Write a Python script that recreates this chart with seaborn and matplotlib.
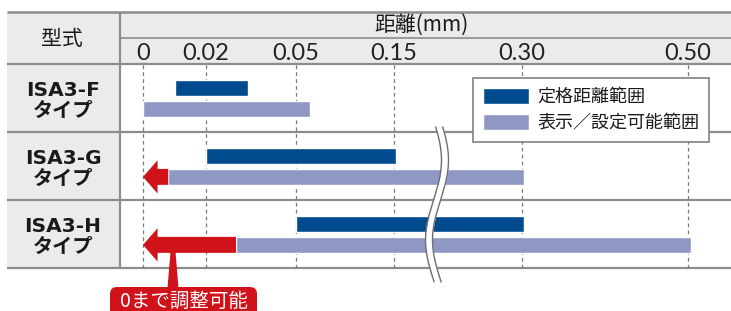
import numpy as np
import matplotlib
matplotlib.use("Agg")
import matplotlib.pyplot as plt
import seaborn as sns
from matplotlib.patches import Rectangle, FancyBboxPatch

# ---- data (distance in mm) ----
models = ["ISA3-F", "ISA3-G", "ISA3-H"]
rated_start = [0.01, 0.02, 0.05]
rated_end = [0.034, 0.152, 0.302]
display_start = [0.0, 0.008, 0.03]
display_end = [0.064, 0.302, 0.504]
adjustable_to_zero = [False, True, True]
tick_values = [0, 0.02, 0.05, 0.15, 0.30, 0.50]
tick_labels = ["0", "0.02", "0.05", "0.15", "0.30", "0.50"]

# ---- layout (figure pixels) ----
W, H = 731, 311
TICK_PX = [143, 206, 296, 394, 522, 688]   # where each tick sits on the non-linear axis
NAVY, LAV, RED = "#004b8d", "#8f98c4", "#d0121b"
FILL, LINE, INK = "#ebebeb", "#8c8c8c", "#1a1a1a"
JP = ["Noto Sans CJK JP", "DejaVu Sans"]

sns.set_theme(style="white")
plt.rcParams["font.family"] = JP


def piecewise(v, xs, ys):
    # linear between anchor points, linear extrapolation outside
    v = np.asarray(v, dtype=float)
    out = np.interp(v, xs, ys)
    out = np.where(v < xs[0], ys[0] + (v - xs[0]) * (ys[1] - ys[0]) / (xs[1] - xs[0]), out)
    out = np.where(v > xs[-1], ys[-1] + (v - xs[-1]) * (ys[-1] - ys[-2]) / (xs[-1] - xs[-2]), out)
    return out


def forward(v):
    return piecewise(v, tick_values, TICK_PX)


def inverse(p):
    return piecewise(p, TICK_PX, tick_values)


def px_rect(x0, y0, x1, y1):
    return [x0 / W, 1 - y1 / H, (x1 - x0) / W, (y1 - y0) / H]


fig = plt.figure(figsize=(W / 100, H / 100), dpi=100)

# background: table frame
bg = fig.add_axes([0, 0, 1, 1], zorder=0)
bg.set_xlim(0, W)
bg.set_ylim(H, 0)
bg.axis("off")
bg.add_patch(Rectangle((7, 12), W - 7, 52, color=FILL, lw=0))
bg.add_patch(Rectangle((7, 64), 113, 204, color=FILL, lw=0))
bg.hlines([12], 7, W, color=LINE, lw=1.8)
bg.hlines([38], 120, W, color=LINE, lw=1.2)
bg.hlines([64, 132, 200, 268], 7, W, color=LINE, lw=1.6)
bg.vlines([120], 12, 268, color=LINE, lw=1.6)
bg.text(62, 39, "型式", ha="center", va="center", size=15, color=INK)
bg.text(421, 25, "距離(mm)", ha="center", va="center", size=15, color=INK)

# main chart
ax = fig.add_axes(px_rect(120, 64, W, 268), zorder=1)
ax.patch.set_alpha(0)
ax.set_xscale("function", functions=(forward, inverse))
ax.set_xlim(float(inverse(120)), float(inverse(W)))
y = np.arange(len(models))
ax.set_ylim(len(models) - 0.5, -0.5)

ax.barh(y - 0.15, np.subtract(rated_end, rated_start), left=rated_start,
        height=0.235, color=NAVY, label="定格距離範囲", zorder=3)
ax.barh(y + 0.16, np.subtract(display_end, display_start), left=display_start,
        height=0.235, color=LAV, label="表示／設定可能範囲", zorder=3)

# red arrows: display range can be pulled down to 0
for yi, start, adj in zip(y, display_start, adjustable_to_zero):
    if adj:
        ax.annotate("", xy=(0, yi + 0.16), xytext=(start, yi + 0.16),
                    arrowprops=dict(arrowstyle="simple,head_length=10.5,head_width=24,tail_width=11.5",
                                    mutation_scale=1, color=RED, lw=0, shrinkA=0, shrinkB=0),
                    zorder=4)

ax.set_xticks(tick_values, tick_labels)
ax.minorticks_off()
ax.grid(axis="x", color="#7a7a7a", linestyle=(0, (3, 2.5)), linewidth=0.9)
ax.grid(axis="y", visible=False)
ax.set_axisbelow(True)
for s in ax.spines.values():
    s.set_visible(False)
ax.tick_params(axis="x", top=True, labeltop=True, bottom=False, labelbottom=False,
               length=0, pad=0, labelsize=17, labelcolor="#222222")
for lab in ax.get_xticklabels():
    lab.set_family(["Lato", "DejaVu Sans"])
    lab.set_fontweight("normal")

ax.set_yticks(y, [f"{m}\nタイプ" for m in models])
ax.tick_params(axis="y", length=0, pad=41, labelsize=14.5, labelcolor=INK)
for lab in ax.get_yticklabels():
    lab.set_ha("center")
    lab.set_family(["DejaVu Sans", "Noto Sans CJK JP"])
    lab.set_fontweight("bold")
    lab.set_linespacing(1.1)

leg = ax.legend(loc="upper left", bbox_to_anchor=((473 - 120) / 611, 1 - (78 - 64) / 204),
                frameon=True, fancybox=False, edgecolor="#808080", framealpha=1,
                borderpad=0.55, handlelength=2.55, handleheight=0.95, handletextpad=0.45,
                labelspacing=0.45, borderaxespad=0, prop={"family": JP, "size": 13})
leg.get_frame().set_linewidth(1.2)
for t in leg.get_texts():
    t.set_color(INK)

# foreground: axis break and callout
fg = fig.add_axes([0, 0, 1, 1], zorder=2)
fg.patch.set_alpha(0)
fg.set_xlim(0, W)
fg.set_ylim(H, 0)
fg.axis("off")
yy = np.linspace(127, 282, 200)
xc = 437 + 8 * np.cos(np.pi * (yy - 160) / 80)
fg.fill_betweenx(yy, xc - 3.5, xc + 3.5, color="white", lw=0)
fg.plot(xc - 3.5, yy, color="#6e6e6e", lw=1)
fg.plot(xc + 3.5, yy, color="#6e6e6e", lw=1)

fg.add_patch(FancyBboxPatch((110, 287), 147, 40, boxstyle="round,pad=0,rounding_size=7",
                            color=RED, lw=0))
fg.fill([170.5, 175.5, 178.5, 167.5], [252, 252, 288, 288], color=RED, lw=0)
fg.text(184, 301, "0まで調整可能", ha="center", va="center", size=14, color="white")

fig.savefig("out.png", dpi=100)
